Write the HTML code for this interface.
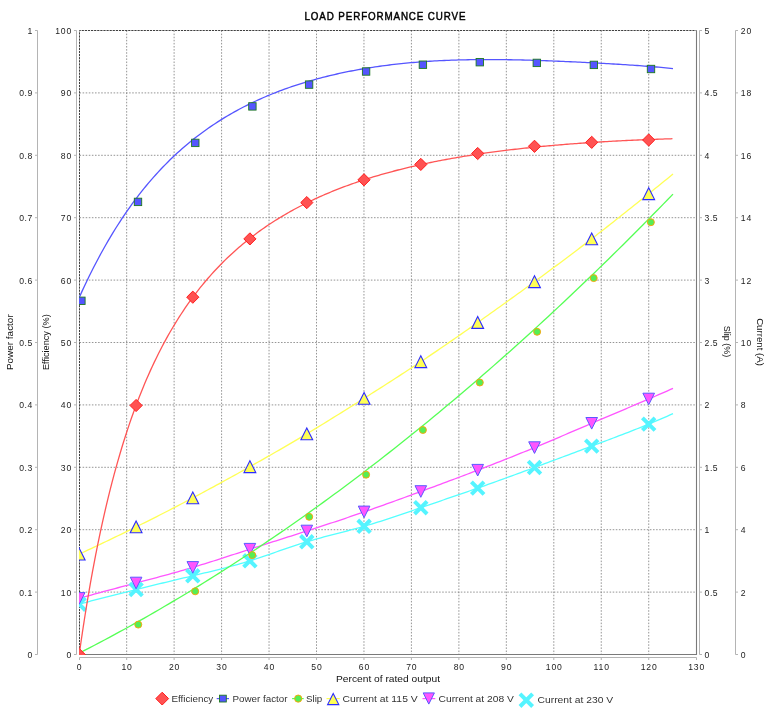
<!DOCTYPE html><html><head><meta charset="utf-8"><style>html,body{margin:0;padding:0;background:#fff;width:775px;height:715px;overflow:hidden}svg{display:block;will-change:transform}text{font-family:"Liberation Sans",sans-serif}</style></head><body>
<svg width="775" height="715" viewBox="0 0 775 715">
<rect width="775" height="715" fill="#fff"/>
<text transform="translate(385 19.7) scale(0.9 1)" x="0" y="0" text-anchor="middle" font-size="10.9" fill="#000" stroke="#000" stroke-width="0.45" textLength="178.9" lengthAdjust="spacing">LOAD PERFORMANCE CURVE</text>
<defs><clipPath id="pc"><rect x="79" y="30" width="618" height="625"/></clipPath></defs>
<path d="M126.66 30.5V654.5 M174.12 30.5V654.5 M221.58 30.5V654.5 M269.04 30.5V654.5 M316.5 30.5V654.5 M363.96 30.5V654.5 M411.42 30.5V654.5 M458.88 30.5V654.5 M506.34 30.5V654.5 M553.8 30.5V654.5 M601.26 30.5V654.5 M648.72 30.5V654.5 M79.5 592.1H696.5 M79.5 529.7H696.5 M79.5 467.3H696.5 M79.5 404.9H696.5 M79.5 342.5H696.5 M79.5 280.1H696.5 M79.5 217.7H696.5 M79.5 155.3H696.5 M79.5 92.9H696.5" stroke="#7a7a7a" stroke-width="0.8" stroke-dasharray="1.55 1.55" fill="none"/>
<path d="M79.5 654.5V30.5H696.5" stroke="#404040" stroke-width="1" stroke-dasharray="2.2 0.9" fill="none"/>
<path d="M696.5 30.5V654.5H79.5" stroke="#7a7a7a" stroke-width="1.1" fill="none"/>
<g clip-path="url(#pc)">
<g fill="none" stroke-width="1.3"><polyline points="79.2,604.2 82.18,603.39 85.17,602.59 88.15,601.79 91.14,600.99 94.12,600.2 97.1,599.42 100.09,598.64 103.07,597.86 106.06,597.09 109.04,596.32 112.02,595.55 115.01,594.79 117.99,594.03 120.97,593.28 123.96,592.53 126.94,591.78 129.93,591.03 132.91,590.29 135.89,589.55 138.88,588.81 141.86,588.08 144.85,587.35 147.83,586.62 150.81,585.89 153.8,585.16 156.78,584.44 159.77,583.72 162.75,583 165.73,582.28 168.72,581.56 171.7,580.84 174.69,580.13 177.67,579.41 180.65,578.7 183.64,577.99 186.62,577.27 189.61,576.56 192.59,575.85 195.57,575.14 198.56,574.43 201.54,573.71 204.52,572.99 207.51,572.27 210.49,571.54 213.48,570.81 216.46,570.06 219.44,569.31 222.43,568.55 225.41,567.77 228.4,566.98 231.38,566.18 234.36,565.36 237.35,564.53 240.33,563.67 243.32,562.8 246.3,561.91 249.28,560.99 252.27,560.05 255.25,559.1 258.24,558.12 261.22,557.13 264.2,556.12 267.19,555.1 270.17,554.07 273.15,553.04 276.14,552.01 279.12,550.97 282.11,549.94 285.09,548.91 288.07,547.89 291.06,546.88 294.04,545.88 297.03,544.89 300.01,543.92 302.99,542.98 305.98,542.05 308.96,541.15 311.95,540.27 314.93,539.42 317.91,538.58 320.9,537.76 323.88,536.96 326.87,536.17 329.85,535.38 332.83,534.61 335.82,533.84 338.8,533.07 341.78,532.3 344.77,531.53 347.75,530.75 350.74,529.96 353.72,529.17 356.7,528.37 359.69,527.54 362.67,526.71 365.66,525.85 368.64,524.97 371.62,524.08 374.61,523.17 377.59,522.24 380.58,521.29 383.56,520.33 386.54,519.36 389.53,518.38 392.51,517.39 395.5,516.39 398.48,515.38 401.46,514.36 404.45,513.34 407.43,512.32 410.42,511.29 413.4,510.26 416.38,509.22 419.37,508.19 422.35,507.17 425.33,506.14 428.32,505.11 431.3,504.09 434.29,503.07 437.27,502.05 440.25,501.03 443.24,500 446.22,498.98 449.21,497.96 452.19,496.94 455.17,495.91 458.16,494.89 461.14,493.86 464.13,492.83 467.11,491.8 470.09,490.76 473.08,489.72 476.06,488.68 479.05,487.63 482.03,486.57 485.01,485.52 488,484.46 490.98,483.39 493.96,482.32 496.95,481.25 499.93,480.18 502.92,479.1 505.9,478.01 508.88,476.93 511.87,475.84 514.85,474.75 517.84,473.65 520.82,472.56 523.8,471.46 526.79,470.36 529.77,469.25 532.76,468.15 535.74,467.04 538.72,465.93 541.71,464.82 544.69,463.71 547.68,462.59 550.66,461.48 553.64,460.36 556.63,459.25 559.61,458.13 562.59,457.01 565.58,455.89 568.56,454.77 571.55,453.65 574.53,452.53 577.51,451.42 580.5,450.3 583.48,449.18 586.47,448.06 589.45,446.94 592.43,445.83 595.42,444.71 598.4,443.59 601.39,442.48 604.37,441.36 607.35,440.24 610.34,439.11 613.32,437.99 616.31,436.85 619.29,435.72 622.27,434.58 625.26,433.43 628.24,432.27 631.23,431.11 634.21,429.94 637.19,428.76 640.18,427.56 643.16,426.36 646.14,425.15 649.13,423.92 652.11,422.69 655.1,421.43 658.08,420.17 661.06,418.89 664.05,417.59 667.03,416.28 670.02,414.95 673,413.6" stroke="#55ffff"/><polyline points="79.2,598.4 82.18,597.54 85.17,596.69 88.15,595.84 91.14,595.01 94.12,594.18 97.1,593.36 100.09,592.54 103.07,591.73 106.06,590.93 109.04,590.13 112.02,589.33 115.01,588.54 117.99,587.75 120.97,586.97 123.96,586.18 126.94,585.4 129.93,584.62 132.91,583.84 135.89,583.05 138.88,582.27 141.86,581.49 144.85,580.7 147.83,579.91 150.81,579.12 153.8,578.33 156.78,577.53 159.77,576.73 162.75,575.92 165.73,575.11 168.72,574.29 171.7,573.47 174.69,572.63 177.67,571.79 180.65,570.95 183.64,570.09 186.62,569.22 189.61,568.35 192.59,567.46 195.57,566.57 198.56,565.66 201.54,564.74 204.52,563.82 207.51,562.89 210.49,561.95 213.48,561 216.46,560.05 219.44,559.09 222.43,558.13 225.41,557.16 228.4,556.2 231.38,555.23 234.36,554.25 237.35,553.28 240.33,552.31 243.32,551.34 246.3,550.37 249.28,549.4 252.27,548.43 255.25,547.47 258.24,546.51 261.22,545.56 264.2,544.6 267.19,543.65 270.17,542.69 273.15,541.74 276.14,540.79 279.12,539.84 282.11,538.89 285.09,537.94 288.07,536.99 291.06,536.04 294.04,535.09 297.03,534.14 300.01,533.18 302.99,532.22 305.98,531.26 308.96,530.3 311.95,529.34 314.93,528.37 317.91,527.4 320.9,526.43 323.88,525.45 326.87,524.47 329.85,523.49 332.83,522.5 335.82,521.51 338.8,520.51 341.78,519.51 344.77,518.51 347.75,517.5 350.74,516.49 353.72,515.47 356.7,514.45 359.69,513.43 362.67,512.4 365.66,511.36 368.64,510.32 371.62,509.27 374.61,508.22 377.59,507.16 380.58,506.1 383.56,505.04 386.54,503.97 389.53,502.9 392.51,501.82 395.5,500.74 398.48,499.66 401.46,498.58 404.45,497.49 407.43,496.4 410.42,495.31 413.4,494.22 416.38,493.12 419.37,492.03 422.35,490.93 425.33,489.83 428.32,488.73 431.3,487.63 434.29,486.53 437.27,485.42 440.25,484.31 443.24,483.2 446.22,482.09 449.21,480.98 452.19,479.86 455.17,478.74 458.16,477.62 461.14,476.5 464.13,475.37 467.11,474.24 470.09,473.11 473.08,471.97 476.06,470.83 479.05,469.68 482.03,468.54 485.01,467.38 488,466.23 490.98,465.07 493.96,463.9 496.95,462.73 499.93,461.56 502.92,460.38 505.9,459.2 508.88,458.01 511.87,456.82 514.85,455.62 517.84,454.42 520.82,453.21 523.8,452 526.79,450.78 529.77,449.55 532.76,448.32 535.74,447.09 538.72,445.84 541.71,444.6 544.69,443.35 547.68,442.09 550.66,440.83 553.64,439.57 556.63,438.3 559.61,437.03 562.59,435.76 565.58,434.48 568.56,433.21 571.55,431.93 574.53,430.65 577.51,429.37 580.5,428.09 583.48,426.81 586.47,425.54 589.45,424.26 592.43,422.99 595.42,421.71 598.4,420.44 601.39,419.17 604.37,417.9 607.35,416.64 610.34,415.37 613.32,414.1 616.31,412.83 619.29,411.57 622.27,410.3 625.26,409.03 628.24,407.76 631.23,406.49 634.21,405.21 637.19,403.94 640.18,402.66 643.16,401.38 646.14,400.1 649.13,398.82 652.11,397.53 655.1,396.24 658.08,394.94 661.06,393.64 664.05,392.34 667.03,391.03 670.02,389.72 673,388.4" stroke="#ff55ff"/><polyline points="79.2,554.1 82.18,552.72 85.17,551.33 88.15,549.94 91.14,548.54 94.12,547.14 97.1,545.73 100.09,544.32 103.07,542.91 106.06,541.48 109.04,540.06 112.02,538.63 115.01,537.19 117.99,535.75 120.97,534.31 123.96,532.86 126.94,531.4 129.93,529.94 132.91,528.47 135.89,527 138.88,525.53 141.86,524.04 144.85,522.56 147.83,521.06 150.81,519.57 153.8,518.06 156.78,516.55 159.77,515.04 162.75,513.52 165.73,511.99 168.72,510.46 171.7,508.93 174.69,507.39 177.67,505.84 180.65,504.28 183.64,502.72 186.62,501.16 189.61,499.59 192.59,498.01 195.57,496.43 198.56,494.84 201.54,493.25 204.52,491.65 207.51,490.04 210.49,488.43 213.48,486.81 216.46,485.19 219.44,483.57 222.43,481.93 225.41,480.3 228.4,478.66 231.38,477.01 234.36,475.36 237.35,473.71 240.33,472.05 243.32,470.38 246.3,468.72 249.28,467.05 252.27,465.37 255.25,463.69 258.24,462.01 261.22,460.32 264.2,458.63 267.19,456.93 270.17,455.22 273.15,453.52 276.14,451.8 279.12,450.08 282.11,448.35 285.09,446.62 288.07,444.88 291.06,443.13 294.04,441.38 297.03,439.62 300.01,437.85 302.99,436.08 305.98,434.29 308.96,432.5 311.95,430.7 314.93,428.89 317.91,427.08 320.9,425.26 323.88,423.43 326.87,421.59 329.85,419.75 332.83,417.91 335.82,416.05 338.8,414.2 341.78,412.34 344.77,410.47 347.75,408.6 350.74,406.73 353.72,404.85 356.7,402.97 359.69,401.09 362.67,399.2 365.66,397.32 368.64,395.43 371.62,393.54 374.61,391.64 377.59,389.75 380.58,387.85 383.56,385.94 386.54,384.03 389.53,382.12 392.51,380.2 395.5,378.28 398.48,376.35 401.46,374.41 404.45,372.47 407.43,370.52 410.42,368.57 413.4,366.6 416.38,364.63 419.37,362.65 422.35,360.67 425.33,358.67 428.32,356.66 431.3,354.65 434.29,352.63 437.27,350.6 440.25,348.56 443.24,346.52 446.22,344.47 449.21,342.41 452.19,340.35 455.17,338.28 458.16,336.21 461.14,334.13 464.13,332.04 467.11,329.95 470.09,327.86 473.08,325.76 476.06,323.66 479.05,321.55 482.03,319.44 485.01,317.33 488,315.21 490.98,313.09 493.96,310.96 496.95,308.84 499.93,306.7 502.92,304.57 505.9,302.43 508.88,300.28 511.87,298.13 514.85,295.98 517.84,293.82 520.82,291.66 523.8,289.5 526.79,287.33 529.77,285.15 532.76,282.98 535.74,280.79 538.72,278.6 541.71,276.41 544.69,274.21 547.68,272.01 550.66,269.8 553.64,267.59 556.63,265.37 559.61,263.15 562.59,260.91 565.58,258.68 568.56,256.43 571.55,254.18 574.53,251.93 577.51,249.66 580.5,247.39 583.48,245.11 586.47,242.83 589.45,240.53 592.43,238.23 595.42,235.92 598.4,233.61 601.39,231.28 604.37,228.95 607.35,226.62 610.34,224.27 613.32,221.92 616.31,219.57 619.29,217.2 622.27,214.84 625.26,212.47 628.24,210.09 631.23,207.71 634.21,205.33 637.19,202.94 640.18,200.55 643.16,198.15 646.14,195.76 649.13,193.36 652.11,190.95 655.1,188.55 658.08,186.14 661.06,183.74 664.05,181.33 667.03,178.92 670.02,176.51 673,174.1" stroke="#ffff55"/></g>
<path d="M72.9 597.9L85.5 610.5M85.5 597.9L72.9 610.5" stroke="#55f4ff" stroke-width="4" fill="none"/>
<path d="M129.8 583.2L142.4 595.8M142.4 583.2L129.8 595.8" stroke="#55f4ff" stroke-width="4" fill="none"/>
<path d="M186.5 569.5L199.1 582.1M199.1 569.5L186.5 582.1" stroke="#55f4ff" stroke-width="4" fill="none"/>
<path d="M243.6 554.5L256.2 567.1M256.2 554.5L243.6 567.1" stroke="#55f4ff" stroke-width="4" fill="none"/>
<path d="M300.5 535.5L313.1 548.1M313.1 535.5L300.5 548.1" stroke="#55f4ff" stroke-width="4" fill="none"/>
<path d="M357.8 520L370.4 532.6M370.4 520L357.8 532.6" stroke="#55f4ff" stroke-width="4" fill="none"/>
<path d="M414.5 501.4L427.1 514M427.1 501.4L414.5 514" stroke="#55f4ff" stroke-width="4" fill="none"/>
<path d="M471.4 481.8L484 494.4M484 481.8L471.4 494.4" stroke="#55f4ff" stroke-width="4" fill="none"/>
<path d="M528.2 461.2L540.8 473.8M540.8 461.2L528.2 473.8" stroke="#55f4ff" stroke-width="4" fill="none"/>
<path d="M585.4 439.8L598 452.4M598 439.8L585.4 452.4" stroke="#55f4ff" stroke-width="4" fill="none"/>
<path d="M642.4 417.8L655 430.4M655 417.8L642.4 430.4" stroke="#55f4ff" stroke-width="4" fill="none"/>
<path d="M73.4 592.6L85 592.6L79.2 604.2Z" fill="#ff55ff" stroke="#5a5aff" stroke-width="1"/>
<path d="M130.3 577.2L141.9 577.2L136.1 588.8Z" fill="#ff55ff" stroke="#5a5aff" stroke-width="1"/>
<path d="M187 561.6L198.6 561.6L192.8 573.2Z" fill="#ff55ff" stroke="#5a5aff" stroke-width="1"/>
<path d="M244.1 543.4L255.7 543.4L249.9 555Z" fill="#ff55ff" stroke="#5a5aff" stroke-width="1"/>
<path d="M301 525.2L312.6 525.2L306.8 536.8Z" fill="#ff55ff" stroke="#5a5aff" stroke-width="1"/>
<path d="M358.3 506.1L369.9 506.1L364.1 517.7Z" fill="#ff55ff" stroke="#5a5aff" stroke-width="1"/>
<path d="M415 485.7L426.6 485.7L420.8 497.3Z" fill="#ff55ff" stroke="#5a5aff" stroke-width="1"/>
<path d="M471.9 464.4L483.5 464.4L477.7 476Z" fill="#ff55ff" stroke="#5a5aff" stroke-width="1"/>
<path d="M528.7 441.8L540.3 441.8L534.5 453.4Z" fill="#ff55ff" stroke="#5a5aff" stroke-width="1"/>
<path d="M585.9 417.5L597.5 417.5L591.7 429.1Z" fill="#ff55ff" stroke="#5a5aff" stroke-width="1"/>
<path d="M642.9 393.2L654.5 393.2L648.7 404.8Z" fill="#ff55ff" stroke="#5a5aff" stroke-width="1"/>
<path d="M79.2 548.2L85.1 560L73.3 560Z" fill="#ffff55" stroke="#2b2bff" stroke-width="1.1" stroke-linejoin="miter"/>
<path d="M136.1 521L142 532.8L130.2 532.8Z" fill="#ffff55" stroke="#2b2bff" stroke-width="1.1" stroke-linejoin="miter"/>
<path d="M192.8 492L198.7 503.8L186.9 503.8Z" fill="#ffff55" stroke="#2b2bff" stroke-width="1.1" stroke-linejoin="miter"/>
<path d="M249.9 460.8L255.8 472.6L244 472.6Z" fill="#ffff55" stroke="#2b2bff" stroke-width="1.1" stroke-linejoin="miter"/>
<path d="M306.8 427.9L312.7 439.7L300.9 439.7Z" fill="#ffff55" stroke="#2b2bff" stroke-width="1.1" stroke-linejoin="miter"/>
<path d="M364.1 392.4L370 404.2L358.2 404.2Z" fill="#ffff55" stroke="#2b2bff" stroke-width="1.1" stroke-linejoin="miter"/>
<path d="M420.8 355.8L426.7 367.6L414.9 367.6Z" fill="#ffff55" stroke="#2b2bff" stroke-width="1.1" stroke-linejoin="miter"/>
<path d="M477.7 316.6L483.6 328.4L471.8 328.4Z" fill="#ffff55" stroke="#2b2bff" stroke-width="1.1" stroke-linejoin="miter"/>
<path d="M534.5 275.8L540.4 287.6L528.6 287.6Z" fill="#ffff55" stroke="#2b2bff" stroke-width="1.1" stroke-linejoin="miter"/>
<path d="M591.7 232.9L597.6 244.7L585.8 244.7Z" fill="#ffff55" stroke="#2b2bff" stroke-width="1.1" stroke-linejoin="miter"/>
<path d="M648.7 187.8L654.6 199.6L642.8 199.6Z" fill="#ffff55" stroke="#2b2bff" stroke-width="1.1" stroke-linejoin="miter"/>
<polyline points="79.5,652.98 84.49,650.43 89.47,647.85 94.46,645.25 99.45,642.63 104.44,639.99 109.42,637.33 114.41,634.64 119.4,631.93 124.39,629.2 129.37,626.45 134.36,623.67 139.35,620.88 144.34,618.06 149.32,615.21 154.31,612.35 159.3,609.47 164.29,606.56 169.27,603.63 174.26,600.68 179.25,597.7 184.24,594.71 189.22,591.69 194.21,588.65 199.2,585.59 204.18,582.5 209.17,579.4 214.16,576.27 219.15,573.12 224.13,569.95 229.12,566.75 234.11,563.54 239.1,560.3 244.08,557.04 249.07,553.76 254.06,550.45 259.05,547.12 264.03,543.78 269.02,540.41 274.01,537.01 279,533.6 283.98,530.16 288.97,526.7 293.96,523.22 298.95,519.72 303.93,516.19 308.92,512.64 313.91,509.07 318.89,505.48 323.88,501.87 328.87,498.23 333.86,494.58 338.84,490.9 343.83,487.19 348.82,483.47 353.81,479.72 358.79,475.96 363.78,472.17 368.77,468.35 373.76,464.52 378.74,460.66 383.73,456.79 388.72,452.88 393.71,448.96 398.69,445.02 403.68,441.05 408.67,437.06 413.66,433.05 418.64,429.02 423.63,424.96 428.62,420.89 433.61,416.79 438.59,412.67 443.58,408.52 448.57,404.36 453.55,400.17 458.54,395.96 463.53,391.73 468.52,387.48 473.5,383.2 478.49,378.9 483.48,374.58 488.47,370.24 493.45,365.88 498.44,361.49 503.43,357.08 508.42,352.65 513.4,348.2 518.39,343.73 523.38,339.23 528.37,334.71 533.35,330.17 538.34,325.61 543.33,321.03 548.32,316.42 553.3,311.79 558.29,307.14 563.28,302.47 568.26,297.77 573.25,293.05 578.24,288.32 583.23,283.55 588.21,278.77 593.2,273.97 598.19,269.14 603.18,264.29 608.16,259.42 613.15,254.52 618.14,249.61 623.13,244.67 628.11,239.71 633.1,234.73 638.09,229.73 643.08,224.7 648.06,219.65 653.05,214.58 658.04,209.49 663.03,204.38 668.01,199.24 673,194.08" stroke="#55ff55" fill="none" stroke-width="1.3"/>
<circle cx="81.3" cy="656.4" r="3.5" fill="#55ee55" stroke="#ffa000" stroke-width="0.9"/>
<circle cx="138.25" cy="624.6" r="3.5" fill="#55ee55" stroke="#ffa000" stroke-width="0.9"/>
<circle cx="195.2" cy="591.3" r="3.5" fill="#55ee55" stroke="#ffa000" stroke-width="0.9"/>
<circle cx="252.2" cy="555.1" r="3.5" fill="#55ee55" stroke="#ffa000" stroke-width="0.9"/>
<circle cx="309.2" cy="516.8" r="3.5" fill="#55ee55" stroke="#ffa000" stroke-width="0.9"/>
<circle cx="366.1" cy="474.7" r="3.5" fill="#55ee55" stroke="#ffa000" stroke-width="0.9"/>
<circle cx="422.9" cy="430" r="3.5" fill="#55ee55" stroke="#ffa000" stroke-width="0.9"/>
<circle cx="479.8" cy="382.5" r="3.5" fill="#55ee55" stroke="#ffa000" stroke-width="0.9"/>
<circle cx="537.1" cy="331.8" r="3.5" fill="#55ee55" stroke="#ffa000" stroke-width="0.9"/>
<circle cx="593.7" cy="278.1" r="3.5" fill="#55ee55" stroke="#ffa000" stroke-width="0.9"/>
<circle cx="650.85" cy="222.2" r="3.5" fill="#55ee55" stroke="#ffa000" stroke-width="0.9"/>
<polyline points="79.5,296.86 81.88,291.61 84.27,286.48 86.65,281.46 89.03,276.54 91.42,271.73 93.8,267.03 96.18,262.43 98.57,257.93 100.95,253.52 103.34,249.21 105.72,244.99 108.1,240.87 110.49,236.83 112.87,232.88 115.25,229.02 117.64,225.24 120.02,221.54 122.4,217.92 124.79,214.38 127.17,210.92 129.55,207.53 131.94,204.21 134.32,200.97 136.7,197.79 139.09,194.69 141.47,191.65 143.86,188.67 146.24,185.76 148.62,182.91 151.01,180.12 153.39,177.39 155.77,174.72 158.16,172.1 160.54,169.54 162.92,167.04 165.31,164.58 167.69,162.18 170.07,159.83 172.46,157.53 174.84,155.28 177.22,153.08 179.61,150.92 181.99,148.8 184.38,146.73 186.76,144.71 189.14,142.72 191.53,140.78 193.91,138.88 196.29,137.01 198.68,135.19 201.06,133.4 203.44,131.65 205.83,129.93 208.21,128.26 210.59,126.61 212.98,125 215.36,123.42 217.74,121.87 220.13,120.36 222.51,118.87 224.9,117.42 227.28,115.99 229.66,114.6 232.05,113.23 234.43,111.89 236.81,110.57 239.2,109.29 241.58,108.03 243.96,106.79 246.35,105.58 248.73,104.39 251.11,103.23 253.5,102.09 255.88,100.97 258.27,99.88 260.65,98.81 263.03,97.76 265.42,96.73 267.8,95.72 270.18,94.73 272.57,93.76 274.95,92.81 277.33,91.88 279.72,90.97 282.1,90.08 284.48,89.2 286.87,88.35 289.25,87.51 291.63,86.69 294.02,85.88 296.4,85.1 298.79,84.32 301.17,83.57 303.55,82.83 305.94,82.1 308.32,81.4 310.7,80.7 313.09,80.02 315.47,79.36 317.85,78.71 320.24,78.07 322.62,77.45 325,76.84 327.39,76.25 329.77,75.67 332.15,75.1 334.54,74.54 336.92,74 339.31,73.47 341.69,72.96 344.07,72.45 346.46,71.96 348.84,71.48 351.22,71.01 353.61,70.55 355.99,70.1 358.37,69.67 360.76,69.25 363.14,68.83 365.52,68.43 367.91,68.04 370.29,67.66 372.67,67.29 375.06,66.93 377.44,66.58 379.83,66.25 382.21,65.92 384.59,65.6 386.98,65.29 389.36,64.99 391.74,64.7 394.13,64.42 396.51,64.15 398.89,63.88 401.28,63.63 403.66,63.39 406.04,63.15 408.43,62.92 410.81,62.7 413.19,62.49 415.58,62.29 417.96,62.1 420.35,61.91 422.73,61.74 425.11,61.57 427.5,61.4 429.88,61.25 432.26,61.1 434.65,60.97 437.03,60.83 439.41,60.71 441.8,60.59 444.18,60.48 446.56,60.38 448.95,60.28 451.33,60.19 453.71,60.11 456.1,60.03 458.48,59.96 460.87,59.89 463.25,59.84 465.63,59.78 468.02,59.74 470.4,59.7 472.78,59.66 475.17,59.63 477.55,59.61 479.93,59.59 482.32,59.57 484.7,59.56 487.08,59.56 489.47,59.56 491.85,59.57 494.23,59.58 496.62,59.59 499,59.61 501.39,59.63 503.77,59.66 506.15,59.69 508.54,59.73 510.92,59.77 513.3,59.81 515.69,59.86 518.07,59.91 520.45,59.97 522.84,60.02 525.22,60.08 527.6,60.15 529.99,60.22 532.37,60.29 534.76,60.36 537.14,60.43 539.52,60.51 541.91,60.59 544.29,60.68 546.67,60.76 549.06,60.85 551.44,60.94 553.82,61.04 556.21,61.13 558.59,61.23 560.97,61.33 563.36,61.43 565.74,61.53 568.12,61.64 570.51,61.75 572.89,61.86 575.28,61.97 577.66,62.08 580.04,62.19 582.43,62.31 584.81,62.43 587.19,62.55 589.58,62.67 591.96,62.79 594.34,62.92 596.73,63.04 599.11,63.17 601.49,63.3 603.88,63.43 606.26,63.57 608.64,63.7 611.03,63.84 613.41,63.98 615.8,64.12 618.18,64.27 620.56,64.42 622.95,64.57 625.33,64.72 627.71,64.87 630.1,65.03 632.48,65.19 634.86,65.35 637.25,65.52 639.63,65.69 642.01,65.87 644.4,66.04 646.78,66.23 649.16,66.41 651.55,66.61 653.93,66.8 656.32,67 658.7,67.21 661.08,67.42 663.47,67.64 665.85,67.87 668.23,68.1 670.62,68.34 673,68.58" stroke="#5555ff" fill="none" stroke-width="1.3"/>
<rect x="77.7" y="297.1" width="7.4" height="7.4" fill="#5555ff" stroke="#1e7a1e" stroke-width="0.9"/>
<rect x="134.3" y="198.2" width="7.4" height="7.4" fill="#5555ff" stroke="#1e7a1e" stroke-width="0.9"/>
<rect x="191.6" y="139.2" width="7.4" height="7.4" fill="#5555ff" stroke="#1e7a1e" stroke-width="0.9"/>
<rect x="248.7" y="102.7" width="7.4" height="7.4" fill="#5555ff" stroke="#1e7a1e" stroke-width="0.9"/>
<rect x="305.4" y="80.9" width="7.4" height="7.4" fill="#5555ff" stroke="#1e7a1e" stroke-width="0.9"/>
<rect x="362.4" y="67.8" width="7.4" height="7.4" fill="#5555ff" stroke="#1e7a1e" stroke-width="0.9"/>
<rect x="419.2" y="61" width="7.4" height="7.4" fill="#5555ff" stroke="#1e7a1e" stroke-width="0.9"/>
<rect x="476.1" y="58.5" width="7.4" height="7.4" fill="#5555ff" stroke="#1e7a1e" stroke-width="0.9"/>
<rect x="533.1" y="59.2" width="7.4" height="7.4" fill="#5555ff" stroke="#1e7a1e" stroke-width="0.9"/>
<rect x="590.15" y="61.2" width="7.4" height="7.4" fill="#5555ff" stroke="#1e7a1e" stroke-width="0.9"/>
<rect x="647.3" y="65.3" width="7.4" height="7.4" fill="#5555ff" stroke="#1e7a1e" stroke-width="0.9"/>
<polyline points="79.5,654.5 79.67,651.13 80.15,647.79 80.62,644.49 81.1,641.22 81.57,637.99 82.05,634.79 82.52,631.62 83,628.48 83.47,625.37 83.95,622.3 84.42,619.25 84.9,616.23 85.37,613.25 85.84,610.29 86.32,607.36 86.79,604.46 87.27,601.59 87.74,598.74 88.22,595.92 88.69,593.13 89.17,590.37 89.64,587.63 90.12,584.91 90.59,582.23 91.06,579.56 91.54,576.92 92.01,574.31 92.49,571.72 92.96,569.15 93.44,566.6 93.91,564.08 94.39,561.58 94.86,559.11 95.34,556.65 95.81,554.22 96.29,551.81 96.76,549.42 97.23,547.05 97.71,544.7 98.18,542.38 98.66,540.07 100.58,530.94 102.5,522.12 104.42,513.59 106.33,505.34 108.25,497.36 110.17,489.64 112.09,482.16 114.01,474.91 115.93,467.88 117.85,461.06 119.77,454.45 121.69,448.03 123.61,441.79 125.53,435.74 127.44,429.85 129.36,424.13 131.28,418.57 133.2,413.16 135.12,407.89 137.04,402.76 138.96,397.77 140.88,392.91 142.8,388.17 144.72,383.56 146.63,379.06 148.55,374.67 150.47,370.39 152.39,366.21 154.31,362.13 156.23,358.16 158.15,354.27 160.07,350.48 161.99,346.77 163.91,343.15 165.82,339.61 167.74,336.15 169.66,332.77 171.58,329.47 173.5,326.23 175.42,323.07 177.34,319.97 179.26,316.94 181.18,313.98 183.1,311.07 185.02,308.23 186.93,305.44 188.85,302.72 190.77,300.05 192.69,297.43 194.61,294.86 196.53,292.35 198.45,289.88 200.37,287.46 202.29,285.09 204.21,282.77 206.12,280.49 208.04,278.25 209.96,276.06 211.88,273.91 213.8,271.79 215.72,269.72 217.64,267.68 219.56,265.68 221.48,263.72 223.4,261.8 225.31,259.9 227.23,258.04 229.15,256.22 231.07,254.42 232.99,252.66 234.91,250.93 236.83,249.23 238.75,247.55 240.67,245.91 242.59,244.29 244.51,242.7 246.42,241.14 248.34,239.6 250.26,238.09 252.18,236.61 254.1,235.15 256.02,233.71 257.94,232.29 259.86,230.9 261.78,229.53 263.7,228.19 265.61,226.86 267.53,225.56 269.45,224.27 271.37,223.01 273.29,221.77 275.21,220.54 277.13,219.34 279.05,218.15 280.97,216.98 282.89,215.83 284.8,214.7 286.72,213.58 288.64,212.48 290.56,211.4 292.48,210.33 294.4,209.28 296.32,208.25 298.24,207.23 300.16,206.22 302.08,205.23 304,204.26 305.91,203.3 307.83,202.35 309.75,201.42 311.67,200.5 313.59,199.59 315.51,198.7 317.43,197.82 319.35,196.95 321.27,196.1 323.19,195.25 325.1,194.42 327.02,193.6 328.94,192.79 330.86,192 332.78,191.21 334.7,190.44 336.62,189.67 338.54,188.92 340.46,188.18 342.38,187.44 344.3,186.72 346.21,186.01 348.13,185.31 350.05,184.61 351.97,183.93 353.89,183.25 355.81,182.59 357.73,181.93 359.65,181.29 361.57,180.65 363.49,180.02 365.4,179.39 367.32,178.78 369.24,178.18 371.16,177.58 373.08,176.99 375,176.41 376.92,175.83 378.84,175.27 380.76,174.71 382.68,174.16 384.59,173.61 386.51,173.08 388.43,172.55 390.35,172.03 392.27,171.51 394.19,171 396.11,170.5 398.03,170 399.95,169.51 401.87,169.03 403.79,168.55 405.7,168.08 407.62,167.62 409.54,167.16 411.46,166.71 413.38,166.26 415.3,165.82 417.22,165.38 419.14,164.96 421.06,164.53 422.98,164.11 424.89,163.7 426.81,163.29 428.73,162.89 430.65,162.49 432.57,162.1 434.49,161.71 436.41,161.33 438.33,160.95 440.25,160.58 442.17,160.21 444.08,159.85 446,159.49 447.92,159.14 449.84,158.79 451.76,158.45 453.68,158.11 455.6,157.77 457.52,157.44 459.44,157.11 461.36,156.79 463.28,156.47 465.19,156.16 467.11,155.85 469.03,155.54 470.95,155.24 472.87,154.94 474.79,154.64 476.71,154.35 478.63,154.07 480.55,153.78 482.47,153.5 484.38,153.23 486.3,152.95 488.22,152.68 490.14,152.42 492.06,152.16 493.98,151.9 495.9,151.64 497.82,151.39 499.74,151.14 501.66,150.9 503.57,150.66 505.49,150.42 507.41,150.18 509.33,149.95 511.25,149.72 513.17,149.49 515.09,149.27 517.01,149.05 518.93,148.83 520.85,148.62 522.77,148.41 524.68,148.2 526.6,147.99 528.52,147.79 530.44,147.59 532.36,147.39 534.28,147.2 536.2,147 538.12,146.81 540.04,146.63 541.96,146.44 543.87,146.26 545.79,146.08 547.71,145.91 549.63,145.73 551.55,145.56 553.47,145.39 555.39,145.22 557.31,145.06 559.23,144.9 561.15,144.74 563.07,144.58 564.98,144.42 566.9,144.27 568.82,144.12 570.74,143.97 572.66,143.82 574.58,143.68 576.5,143.54 578.42,143.4 580.34,143.26 582.26,143.12 584.17,142.99 586.09,142.86 588.01,142.73 589.93,142.6 591.85,142.47 593.77,142.35 595.69,142.23 597.61,142.11 599.53,141.99 601.45,141.87 603.36,141.76 605.28,141.64 607.2,141.53 609.12,141.42 611.04,141.32 612.96,141.21 614.88,141.11 616.8,141 618.72,140.9 620.64,140.8 622.56,140.71 624.47,140.61 626.39,140.52 628.31,140.43 630.23,140.34 632.15,140.25 634.07,140.16 635.99,140.07 637.91,139.99 639.83,139.91 641.75,139.83 643.66,139.75 645.58,139.67 647.5,139.59 649.42,139.52 651.34,139.44 653.26,139.37 655.18,139.3 657.1,139.23 659.02,139.16 660.94,139.09 662.85,139.03 664.77,138.97 666.69,138.9 668.61,138.84 670.53,138.78 672.45,138.72" stroke="#ff5555" fill="none" stroke-width="1.3"/>
<path d="M79.2 648.4L85.3 654.5L79.2 660.6L73.1 654.5Z" fill="#ff5252" stroke="#ff1c1c" stroke-width="1"/>
<path d="M136.1 399.4L142.2 405.5L136.1 411.6L130 405.5Z" fill="#ff5252" stroke="#ff1c1c" stroke-width="1"/>
<path d="M192.8 291.1L198.9 297.2L192.8 303.3L186.7 297.2Z" fill="#ff5252" stroke="#ff1c1c" stroke-width="1"/>
<path d="M249.9 232.8L256 238.9L249.9 245L243.8 238.9Z" fill="#ff5252" stroke="#ff1c1c" stroke-width="1"/>
<path d="M306.8 196.5L312.9 202.6L306.8 208.7L300.7 202.6Z" fill="#ff5252" stroke="#ff1c1c" stroke-width="1"/>
<path d="M364 173.7L370.1 179.8L364 185.9L357.9 179.8Z" fill="#ff5252" stroke="#ff1c1c" stroke-width="1"/>
<path d="M420.8 158.3L426.9 164.4L420.8 170.5L414.7 164.4Z" fill="#ff5252" stroke="#ff1c1c" stroke-width="1"/>
<path d="M477.7 147.4L483.8 153.5L477.7 159.6L471.6 153.5Z" fill="#ff5252" stroke="#ff1c1c" stroke-width="1"/>
<path d="M534.5 140.2L540.6 146.3L534.5 152.4L528.4 146.3Z" fill="#ff5252" stroke="#ff1c1c" stroke-width="1"/>
<path d="M591.7 136.25L597.8 142.35L591.7 148.45L585.6 142.35Z" fill="#ff5252" stroke="#ff1c1c" stroke-width="1"/>
<path d="M648.7 133.9L654.8 140L648.7 146.1L642.6 140Z" fill="#ff5252" stroke="#ff1c1c" stroke-width="1"/>
</g>
<path d="M37.5 30.5V654.5 M76.5 30.5V654.5 M699.5 30.5V654.5 M735.5 30.5V654.5 M79.5 657.5H696.5 M35 654.5H37.5 M74 654.5H76.5 M699.5 654.5H702 M735.5 654.5H738 M35 592.1H37.5 M74 592.1H76.5 M699.5 592.1H702 M735.5 592.1H738 M35 529.7H37.5 M74 529.7H76.5 M699.5 529.7H702 M735.5 529.7H738 M35 467.3H37.5 M74 467.3H76.5 M699.5 467.3H702 M735.5 467.3H738 M35 404.9H37.5 M74 404.9H76.5 M699.5 404.9H702 M735.5 404.9H738 M35 342.5H37.5 M74 342.5H76.5 M699.5 342.5H702 M735.5 342.5H738 M35 280.1H37.5 M74 280.1H76.5 M699.5 280.1H702 M735.5 280.1H738 M35 217.7H37.5 M74 217.7H76.5 M699.5 217.7H702 M735.5 217.7H738 M35 155.3H37.5 M74 155.3H76.5 M699.5 155.3H702 M735.5 155.3H738 M35 92.9H37.5 M74 92.9H76.5 M699.5 92.9H702 M735.5 92.9H738 M35 30.5H37.5 M74 30.5H76.5 M699.5 30.5H702 M735.5 30.5H738 M79.5 657.5V660 M126.66 657.5V660 M174.12 657.5V660 M221.58 657.5V660 M269.04 657.5V660 M316.5 657.5V660 M363.96 657.5V660 M411.42 657.5V660 M458.88 657.5V660 M506.34 657.5V660 M553.8 657.5V660 M601.26 657.5V660 M648.72 657.5V660 M696.5 657.5V660" stroke="#b4b4b4" stroke-width="1" fill="none"/>
<g font-size="9.6" fill="#222"><text transform="translate(33.15 658) scale(0.9 1)" text-anchor="end" letter-spacing="0.95">0</text><text transform="translate(72.16 658) scale(0.9 1)" text-anchor="end" letter-spacing="0.95">0</text><text transform="translate(704.6 658) scale(0.9 1)" text-anchor="start" letter-spacing="0.95">0</text><text transform="translate(740.8 658) scale(0.9 1)" text-anchor="start" letter-spacing="0.95">0</text><text transform="translate(32.79 595.6) scale(0.9 1)" text-anchor="end" letter-spacing="0.55">0.1</text><text transform="translate(72.16 595.6) scale(0.9 1)" text-anchor="end" letter-spacing="0.95">10</text><text transform="translate(704.6 595.6) scale(0.9 1)" text-anchor="start" letter-spacing="0.55">0.5</text><text transform="translate(740.8 595.6) scale(0.9 1)" text-anchor="start" letter-spacing="0.95">2</text><text transform="translate(32.79 533.2) scale(0.9 1)" text-anchor="end" letter-spacing="0.55">0.2</text><text transform="translate(72.16 533.2) scale(0.9 1)" text-anchor="end" letter-spacing="0.95">20</text><text transform="translate(704.6 533.2) scale(0.9 1)" text-anchor="start" letter-spacing="0.95">1</text><text transform="translate(740.8 533.2) scale(0.9 1)" text-anchor="start" letter-spacing="0.95">4</text><text transform="translate(32.79 470.8) scale(0.9 1)" text-anchor="end" letter-spacing="0.55">0.3</text><text transform="translate(72.16 470.8) scale(0.9 1)" text-anchor="end" letter-spacing="0.95">30</text><text transform="translate(704.6 470.8) scale(0.9 1)" text-anchor="start" letter-spacing="0.55">1.5</text><text transform="translate(740.8 470.8) scale(0.9 1)" text-anchor="start" letter-spacing="0.95">6</text><text transform="translate(32.79 408.4) scale(0.9 1)" text-anchor="end" letter-spacing="0.55">0.4</text><text transform="translate(72.16 408.4) scale(0.9 1)" text-anchor="end" letter-spacing="0.95">40</text><text transform="translate(704.6 408.4) scale(0.9 1)" text-anchor="start" letter-spacing="0.95">2</text><text transform="translate(740.8 408.4) scale(0.9 1)" text-anchor="start" letter-spacing="0.95">8</text><text transform="translate(32.79 346) scale(0.9 1)" text-anchor="end" letter-spacing="0.55">0.5</text><text transform="translate(72.16 346) scale(0.9 1)" text-anchor="end" letter-spacing="0.95">50</text><text transform="translate(704.6 346) scale(0.9 1)" text-anchor="start" letter-spacing="0.55">2.5</text><text transform="translate(740.8 346) scale(0.9 1)" text-anchor="start" letter-spacing="0.95">10</text><text transform="translate(32.79 283.6) scale(0.9 1)" text-anchor="end" letter-spacing="0.55">0.6</text><text transform="translate(72.16 283.6) scale(0.9 1)" text-anchor="end" letter-spacing="0.95">60</text><text transform="translate(704.6 283.6) scale(0.9 1)" text-anchor="start" letter-spacing="0.95">3</text><text transform="translate(740.8 283.6) scale(0.9 1)" text-anchor="start" letter-spacing="0.95">12</text><text transform="translate(32.79 221.2) scale(0.9 1)" text-anchor="end" letter-spacing="0.55">0.7</text><text transform="translate(72.16 221.2) scale(0.9 1)" text-anchor="end" letter-spacing="0.95">70</text><text transform="translate(704.6 221.2) scale(0.9 1)" text-anchor="start" letter-spacing="0.55">3.5</text><text transform="translate(740.8 221.2) scale(0.9 1)" text-anchor="start" letter-spacing="0.95">14</text><text transform="translate(32.79 158.8) scale(0.9 1)" text-anchor="end" letter-spacing="0.55">0.8</text><text transform="translate(72.16 158.8) scale(0.9 1)" text-anchor="end" letter-spacing="0.95">80</text><text transform="translate(704.6 158.8) scale(0.9 1)" text-anchor="start" letter-spacing="0.95">4</text><text transform="translate(740.8 158.8) scale(0.9 1)" text-anchor="start" letter-spacing="0.95">16</text><text transform="translate(32.79 96.4) scale(0.9 1)" text-anchor="end" letter-spacing="0.55">0.9</text><text transform="translate(72.16 96.4) scale(0.9 1)" text-anchor="end" letter-spacing="0.95">90</text><text transform="translate(704.6 96.4) scale(0.9 1)" text-anchor="start" letter-spacing="0.55">4.5</text><text transform="translate(740.8 96.4) scale(0.9 1)" text-anchor="start" letter-spacing="0.95">18</text><text transform="translate(33.15 34) scale(0.9 1)" text-anchor="end" letter-spacing="0.95">1</text><text transform="translate(72.16 34) scale(0.9 1)" text-anchor="end" letter-spacing="0.95">100</text><text transform="translate(704.6 34) scale(0.9 1)" text-anchor="start" letter-spacing="0.95">5</text><text transform="translate(740.8 34) scale(0.9 1)" text-anchor="start" letter-spacing="0.95">20</text><text transform="translate(79.63 670.2) scale(0.9 1)" text-anchor="middle" letter-spacing="0.95">0</text><text transform="translate(127.09 670.2) scale(0.9 1)" text-anchor="middle" letter-spacing="0.95">10</text><text transform="translate(174.55 670.2) scale(0.9 1)" text-anchor="middle" letter-spacing="0.95">20</text><text transform="translate(222.01 670.2) scale(0.9 1)" text-anchor="middle" letter-spacing="0.95">30</text><text transform="translate(269.47 670.2) scale(0.9 1)" text-anchor="middle" letter-spacing="0.95">40</text><text transform="translate(316.93 670.2) scale(0.9 1)" text-anchor="middle" letter-spacing="0.95">50</text><text transform="translate(364.39 670.2) scale(0.9 1)" text-anchor="middle" letter-spacing="0.95">60</text><text transform="translate(411.85 670.2) scale(0.9 1)" text-anchor="middle" letter-spacing="0.95">70</text><text transform="translate(459.31 670.2) scale(0.9 1)" text-anchor="middle" letter-spacing="0.95">80</text><text transform="translate(506.77 670.2) scale(0.9 1)" text-anchor="middle" letter-spacing="0.95">90</text><text transform="translate(554.23 670.2) scale(0.9 1)" text-anchor="middle" letter-spacing="0.95">100</text><text transform="translate(601.69 670.2) scale(0.9 1)" text-anchor="middle" letter-spacing="0.95">110</text><text transform="translate(649.15 670.2) scale(0.9 1)" text-anchor="middle" letter-spacing="0.95">120</text><text transform="translate(696.61 670.2) scale(0.9 1)" text-anchor="middle" letter-spacing="0.95">130</text></g>
<g font-size="9.2" fill="#111">
<text x="388" y="682" text-anchor="middle" textLength="104" lengthAdjust="spacingAndGlyphs">Percent of rated output</text>
<text transform="translate(13.3 342.2) rotate(-90)" text-anchor="middle" textLength="55.8" lengthAdjust="spacingAndGlyphs">Power factor</text>
<text transform="translate(48.6 342.2) rotate(-90)" text-anchor="middle" textLength="55.8" lengthAdjust="spacingAndGlyphs">Efficiency (%)</text>
<text transform="translate(724.1 341.5) rotate(90)" text-anchor="middle" textLength="31.5" lengthAdjust="spacingAndGlyphs">Slip (%)</text>
<text transform="translate(757 342) rotate(90)" text-anchor="middle" textLength="47.7" lengthAdjust="spacingAndGlyphs">Current (A)</text>
</g>
<path d="M162.2 692.2L168.6 698.6L162.2 705L155.8 698.6Z" fill="#ff5252" stroke="#ff1c1c" stroke-width="1"/><path d="M216.7 698.6H229" stroke="#5555ff" stroke-width="1.2"/><rect x="219.5" y="695.2" width="6.8" height="6.8" fill="#5555ff" stroke="#1e7a1e" stroke-width="0.9"/><path d="M292.1 698.6H303.7" stroke="#55ff55" stroke-width="1.2"/><circle cx="298.2" cy="698.6" r="3.6" fill="#55ee55" stroke="#ffa000" stroke-width="0.9"/><path d="M326.5 698.6H339.8" stroke="#ffff55" stroke-width="1.2"/><path d="M333.2 693.4L338.8 704.6L327.6 704.6Z" fill="#ffff55" stroke="#2b2bff" stroke-width="1.1" stroke-linejoin="miter"/><path d="M422.5 698.6H435.3" stroke="#ff55ff" stroke-width="1.2"/><path d="M423.2 692.9L434.4 692.9L428.8 704.1Z" fill="#ff55ff" stroke="#5a5aff" stroke-width="1"/><path d="M520 693.9L532.6 706.5M532.6 693.9L520 706.5" stroke="#55f4ff" stroke-width="4" fill="none"/>
<g font-size="9.4" fill="#333">
<text x="171.4" y="702" textLength="41.8" lengthAdjust="spacingAndGlyphs">Efficiency</text>
<text x="232.4" y="702" textLength="55.1" lengthAdjust="spacingAndGlyphs">Power factor</text>
<text x="306" y="702" textLength="16.3" lengthAdjust="spacingAndGlyphs">Slip</text>
<text x="342.4" y="702" textLength="75.3" lengthAdjust="spacingAndGlyphs">Current at 115 V</text>
<text x="438.5" y="702" textLength="75.4" lengthAdjust="spacingAndGlyphs">Current at 208 V</text>
<text x="537.6" y="703" textLength="75.6" lengthAdjust="spacingAndGlyphs">Current at 230 V</text>
</g>
</svg></body></html>
